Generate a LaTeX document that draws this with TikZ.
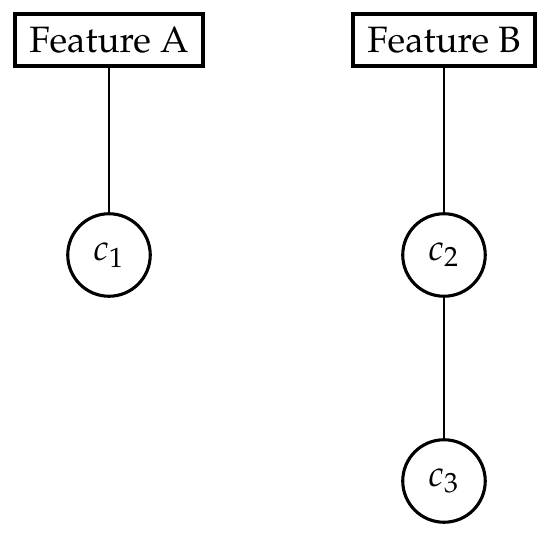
\documentclass[tikz,border=0pt]{standalone}
\usepackage[T1]{fontenc}
\usepackage{mathpazo}
\begin{document}
\begin{tikzpicture}[x=0.2727pt,y=-0.2727pt,
  feat/.style={draw,line width=1.1pt,inner xsep=4pt,minimum height=14.2pt,font=\fontsize{10}{12}\selectfont},
  cls/.style={draw,circle,line width=0.85pt,minimum size=22.5pt,inner sep=0pt,font=\fontsize{10}{12}\selectfont},
  link/.style={line width=0.55pt}]
\useasboundingbox (0,0) rectangle (550,534);
\node[feat] (fa) at (109,40) {Feature A};
\node[feat] (fb) at (444,40) {Feature B};
\node[cls] (c1) at (109,255) {$c_1$};
\node[cls] (c2) at (444,255) {$c_2$};
\node[cls] (c3) at (444,481) {$c_3$};
\draw[link] (fa) -- (c1);
\draw[link] (fb) -- (c2);
\draw[link] (c2) -- (c3);
\end{tikzpicture}
\end{document}
